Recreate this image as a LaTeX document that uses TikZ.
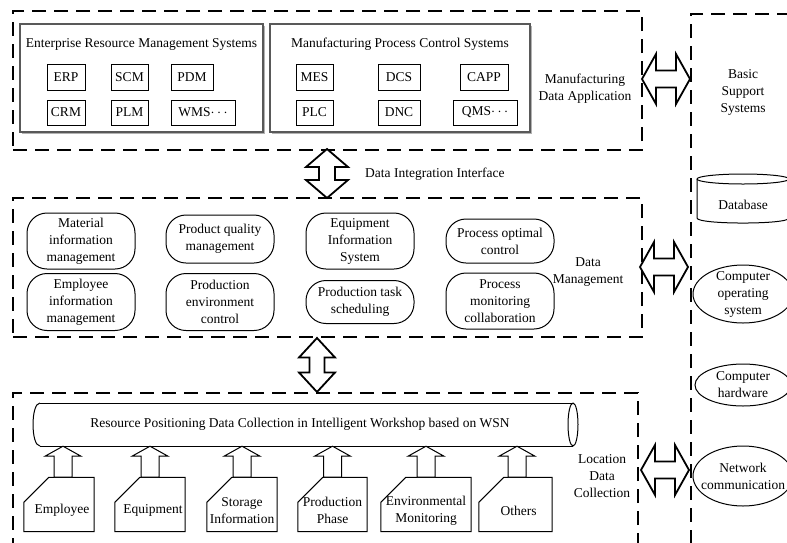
\documentclass[tikz,border=0pt]{standalone}
\usepackage{fontspec}
\setmainfont{Liberation Serif}
\usetikzlibrary{shapes.geometric,shadows}
\begin{document}
\begin{tikzpicture}[x=1pt,y=-1pt,
  every node/.style={font=\fontsize{13.5}{17}\selectfont, align=center, inner sep=0pt},
  dbox/.style={draw, line width=2pt, dash pattern=on 14pt off 8pt},
  gbox/.style={draw=black!65, line width=1.5pt, fill=white, drop shadow={shadow xshift=2pt,shadow yshift=-2pt,fill=black!30,opacity=1}},
  sbox/.style={draw, line width=1pt},
  stad/.style={draw, line width=1pt, rounded corners=20pt, minimum width=108pt},
  ell/.style={draw, ellipse, line width=1pt},
  card/.style={minimum height=54pt},
  cardline/.style={line width=1pt, line join=miter},
  barrow/.style={draw, line width=1.8pt, fill=white, line join=miter},
  uarrow/.style={draw, line width=1pt, fill=white, line join=miter},
  hdarr/.pic={\draw[barrow] (-24,0) -- (-10,-25) -- (-10,-8.5) -- (10,-8.5) -- (10,-25) -- (24,0) -- (10,25) -- (10,8.5) -- (-10,8.5) -- (-10,25) -- cycle;},
  vdarrA/.pic={\draw[barrow] (0,-24.5) -- (21,-6.5) -- (8,-6.5) -- (8,6.5) -- (21,6.5) -- (0,24.5) -- (-21,6.5) -- (-8,6.5) -- (-8,-6.5) -- (-21,-6.5) -- cycle;},
  vdarrB/.pic={\draw[barrow] (0,-27) -- (18,-7.5) -- (7.5,-7.5) -- (7.5,7.5) -- (18,7.5) -- (0,27) -- (-18,7.5) -- (-7.5,7.5) -- (-7.5,-7.5) -- (-18,-7.5) -- cycle;},
  uparr/.pic={\draw[uarrow] (0,0) -- (18,10) -- (9,10) -- (9,31) -- (-9,31) -- (-9,10) -- (-18,10) -- cycle;}
]
\useasboundingbox (0,0) rectangle (787,542);
\clip (0,0) rectangle (787,542);

% dashed layer boxes
\node[dbox, minimum width=629pt, minimum height=139pt] (mda) at (327.5,80.5) {};
\node[dbox, minimum width=629pt, minimum height=139pt] (dm) at (327.5,267.5) {};
\node[dbox, minimum width=625pt, minimum height=167pt] (ldc) at (325.5,476.5) {};
\node[dbox, minimum width=118pt, minimum height=546pt] (bss) at (750,287) {};

% top layer
\node[gbox, minimum width=243pt, minimum height=108pt] (erms) at (141.5,78) {};
\node[gbox, minimum width=260pt, minimum height=108pt] (mpcs) at (400,78) {};
\node (ermsT) at (141.5,44) {Enterprise Resource Management Systems};
\node (mpcsT) at (400,44) {Manufacturing Process Control Systems};

\node[sbox, minimum width=38pt, minimum height=26pt] (erp) at (66,77) {ERP};
\node[sbox, minimum width=37pt, minimum height=26pt] (scm) at (129.5,77) {SCM};
\node[sbox, minimum width=42pt, minimum height=26pt] (pdm) at (192,77) {PDM};
\node[sbox, minimum width=38pt, minimum height=25pt] (crm) at (66,112.5) {CRM};
\node[sbox, minimum width=37pt, minimum height=25pt] (plm) at (129.5,112.5) {PLM};
\node[sbox, minimum width=64pt, minimum height=25pt] (wms) at (203,112.5) {WMS$\cdots$};

\node[sbox, minimum width=37pt, minimum height=26pt] (mes) at (314.5,77) {MES};
\node[sbox, minimum width=42pt, minimum height=26pt] (dcs) at (399,77) {DCS};
\node[sbox, minimum width=48pt, minimum height=26pt] (capp) at (484,77) {CAPP};
\node[sbox, minimum width=37pt, minimum height=25pt] (plc) at (314.5,112.5) {PLC};
\node[sbox, minimum width=42pt, minimum height=25pt] (dnc) at (399,112.5) {DNC};
\node[sbox, minimum width=64pt, minimum height=25pt] (qms) at (485,112.5) {QMS$\cdots$};

\node (mdaL) at (585,89) {Manufacturing\\Data Application};

% data integration interface
\pic at (327,173.5) {vdarrA};
\node[anchor=west] (dii) at (365,174) {Data Integration Interface};

% data management layer
\node[stad, minimum height=56pt] (mat) at (81,241) {Material\\information\\management};
\node[stad, minimum height=57pt] (emi) at (81,302) {Employee\\information\\management};
\node[stad, minimum height=48pt] (pqm) at (220,239) {Product quality\\management};
\node[stad, minimum height=57pt] (pec) at (220,302) {Production\\environment\\control};
\node[stad, minimum height=56pt] (eis) at (360,241) {Equipment\\Information\\System};
\node[stad, minimum height=43pt] (pts) at (360,302) {Production task\\scheduling};
\node[stad, minimum height=44pt] (poc) at (500,241) {Process optimal\\control};
\node[stad, minimum height=56pt] (pmc) at (500,301) {Process\\monitoring\\collaboration};
\node (dmL) at (588,272) {Data\\Management};

\pic at (317,365) {vdarrB};

% location data collection layer
\draw[line width=1pt] (40,403) -- (573,403) (40,446) -- (573,446);
\draw[line width=1pt] (40,403) .. controls (30.7,403) and (30.7,446) .. (40,446);
\draw[line width=1pt] (573,424.5) ellipse (5 and 21.5);
\node[minimum height=43pt] (pipe) at (300,424.5) {Resource Positioning Data Collection in Intelligent Workshop based on WSN};

\node[card, minimum width=70pt] (emp) at (59,504.5) {};
\node[card, minimum width=70pt] (eqp) at (150,504.5) {};
\node[card, minimum width=70pt] (sto) at (242,504.5) {};
\node[card, minimum width=69pt] (pro) at (332.5,504.5) {};
\node[card, minimum width=90pt] (env) at (426,504.5) {};
\node[card, minimum width=73pt] (oth) at (515.5,504.5) {};
\foreach \n in {emp,eqp,sto,pro,env,oth}{
  \draw[cardline] (\n.north west) ++(0,25) -- ++(25,-25) -- (\n.north east) -- (\n.south east) -- (\n.south west) -- cycle;
}
\path (emp.center) ++(3,6) node (empT) {Employee};
\path (eqp.center) ++(3,6) node (eqpT) {Equipment};
\path (sto.center) ++(0,6) node (stoT) {Storage\\Information};
\path (pro.center) ++(0,6) node (proT) {Production\\Phase};
\path (env.center) ++(0,6) node (envT) {Environmental\\Monitoring};
\path (oth.center) ++(3,6) node (othT) {Others};

\pic at ([xshift=4pt]emp.north |- pipe.south) {uparr};
\pic at (eqp.north |- pipe.south) {uparr};
\pic at (sto.north |- pipe.south) {uparr};
\pic at (pro.north |- pipe.south) {uparr};
\pic at (env.north |- pipe.south) {uparr};
\pic at ([xshift=1.5pt]oth.north |- pipe.south) {uparr};

\node (ldcL) at (602,476) {Location\\Data\\Collection};

% basic support systems
\node (bssL) at (743,92) {Basic\\Support\\Systems};
\draw[line width=1pt] (743,179) ellipse (46 and 5);
\draw[line width=1pt] (697,179) -- (697,218) .. controls (697,224.7) and (789,224.7) .. (789,218) -- (789,179);
\node (db) at (743,205) {Database};
\node[ell, minimum width=100pt, minimum height=58pt, label={[align=center]center:Computer\\operating\\system}] (cos) at (743,294) {};
\node[ell, minimum width=96pt, minimum height=42pt, label={[align=center]center:Computer\\hardware}] (hw) at (743,385) {};
\node[ell, minimum width=100pt, minimum height=60pt, label={[align=center]center:Network\\communication}] (net) at (743,476) {};

% interface arrows
\pic at (666,79) {hdarr};
\pic at (664,267) {hdarr};
\pic at (665,470) {hdarr};
\end{tikzpicture}
\end{document}
